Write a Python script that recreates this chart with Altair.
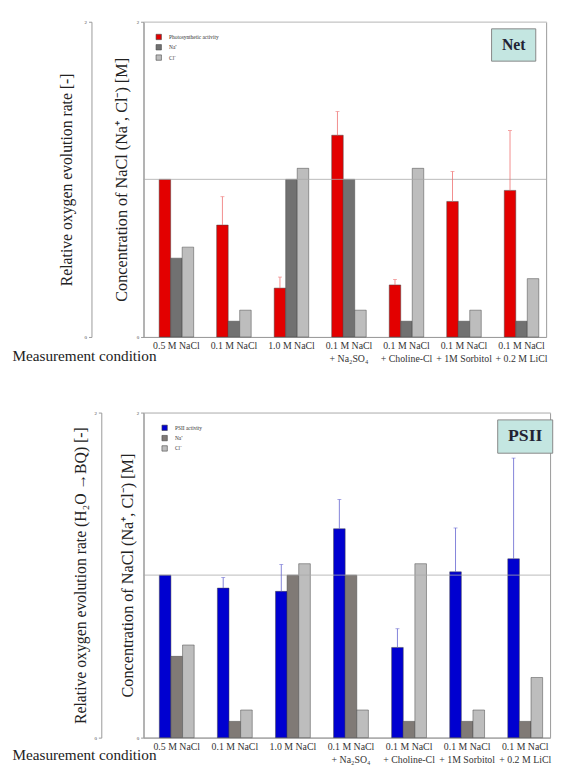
import altair as alt
import pandas as pd

conditions = ["0.5 M NaCl", "0.1 M NaCl", "1.0 M NaCl",
              "0.1 M NaCl|+ Na₂SO₄", "0.1 M NaCl|+ Choline-Cl",
              "0.1 M NaCl|+ 1M Sorbitol", "0.1 M NaCl|+ 0.2 M LiCl"]
series_net = ["Photosynthetic activity", "Na⁺", "Cl⁻"]
series_psii = ["PSII activity", "Na⁺", "Cl⁻"]

net_activity = [1.00, 0.71, 0.31, 1.28, 0.33, 0.86, 0.93]
net_error = [0.0, 0.18, 0.07, 0.15, 0.035, 0.19, 0.38]
psii_activity = [1.00, 0.92, 0.90, 1.285, 0.555, 1.02, 1.10]
psii_error = [0.0, 0.065, 0.165, 0.18, 0.115, 0.27, 0.62]
na_conc = [0.5, 0.1, 1.0, 1.0, 0.1, 0.1, 0.1]
cl_conc = [0.57, 0.17, 1.07, 0.17, 1.07, 0.17, 0.37]
ref_level = [1.0]
y_ticks = [0, 1, 2]
box_range = [1.75, 1.955]

FONT = "Liberation Serif"


def panel(series, act_vals, err_vals, act_color, err_color, box_text,
          w, h, outer_title, inner_title, outer_offset, outer_pad, inner_pad,
          outer_fs, inner_fs, mc_x, mc_y, legend_x, legend_y, box_w, box_dx,
          box_fs, na_color):
    rows = []
    for c, a, n, cl in zip(conditions, act_vals, na_conc, cl_conc):
        rows.append({"condition": c, "series": series[0], "value": a})
        rows.append({"condition": c, "series": series[1], "value": n})
        rows.append({"condition": c, "series": series[2], "value": cl})
    df = pd.DataFrame(rows)
    err_df = pd.DataFrame([{"condition": c, "series": series[0], "value": a, "top": a + e}
                           for c, a, e in zip(conditions, act_vals, err_vals) if e > 0])
    box_df = pd.DataFrame([{"condition": conditions[-1], "y": box_range[0], "y2": box_range[1],
                            "mid": (box_range[0] + box_range[1]) / 2, "label": box_text}])

    yscale = alt.Scale(domain=[0, 2], nice=False, zero=True)
    xscale = alt.Scale(paddingInner=0.4, paddingOuter=0.2, align=0.68)
    xaxis = alt.Axis(title="Measurement condition", labelExpr="split(datum.label, '|')",
                     labelAngle=0, labelFont=FONT, labelFontSize=10, labelLineHeight=13,
                     labelBaseline="top", labelColor="#333", ticks=False, labelPadding=4,
                     labelOverlap=False, domainColor="#999", titleX=mc_x, titleY=mc_y,
                     titleAlign="left", titleBaseline="middle", titleFont=FONT,
                     titleFontSize=15.5, titleFontWeight="normal", titleColor="#222")
    x = alt.X("condition:N", sort=conditions, scale=xscale, axis=xaxis)
    xo = alt.XOffset("series:N", sort=series, scale=alt.Scale(paddingInner=0))

    def yaxis(title, fs, pad, offset=0):
        return alt.Axis(values=y_ticks, format="d", orient="left", offset=offset, title=title,
                        labelFont=FONT, labelFontSize=5, labelColor="#444",
                        tickSize=3, tickColor="#999", labelPadding=2,
                        domainColor="#999", titleFont=FONT, titleFontSize=fs,
                        titleFontWeight="normal", titleColor="#222", titlePadding=pad)

    bars = alt.Chart(df).mark_bar(stroke="#444", strokeWidth=0.5).encode(
        x=x, xOffset=xo,
        y=alt.Y("value:Q", scale=yscale, axis=yaxis(inner_title, inner_fs, inner_pad)),
        color=alt.Color("series:N", sort=series,
                        scale=alt.Scale(domain=series, range=[act_color, na_color, "#bdbdbd"]),
                        legend=alt.Legend(title=None, orient="none", legendX=legend_x,
                                          legendY=legend_y, symbolType="square",
                                          symbolSize=30, symbolStrokeColor="#444",
                                          symbolStrokeWidth=0.6, labelFont=FONT,
                                          labelFontSize=5.5, labelColor="#333",
                                          rowPadding=1.5, labelOffset=7)),
    )
    ref = alt.Chart(pd.DataFrame({"level": ref_level})).mark_rule(
        color="#aaa", strokeWidth=0.8).encode(
        y=alt.Y("level:Q", scale=yscale,
                axis=yaxis(outer_title, outer_fs, outer_pad, outer_offset)))
    err = alt.Chart(err_df).mark_rule(color=err_color, strokeWidth=0.8).encode(
        x=alt.X("condition:N", sort=conditions, scale=xscale), xOffset=xo,
        y=alt.Y("value:Q", scale=yscale, axis=None), y2="top:Q")
    cap = alt.Chart(err_df).mark_tick(color=err_color, size=4, thickness=0.8).encode(
        x=alt.X("condition:N", sort=conditions, scale=xscale), xOffset=xo,
        y=alt.Y("top:Q", scale=yscale, axis=None))
    box = alt.Chart(box_df).mark_bar(width=box_w, xOffset=box_dx, fill="#c4e6e1",
                                     stroke="#888", strokeWidth=1).encode(
        x=alt.X("condition:N", sort=conditions, scale=xscale),
        y=alt.Y("y:Q", scale=yscale, axis=None), y2="y2:Q")
    txt = alt.Chart(box_df).mark_text(xOffset=box_dx, font=FONT, fontSize=box_fs,
                                      fontWeight="bold", color="#223").encode(
        x=alt.X("condition:N", sort=conditions, scale=xscale),
        y=alt.Y("mid:Q", scale=yscale, axis=None), text="label:N")

    return alt.layer(bars, ref, err, cap, box, txt).resolve_axis(y="independent").properties(
        width=w, height=h)


top = panel(series_net, net_activity, net_error, "#e30000", "#ee7070", "Net",
            410, 321, "Relative oxygen evolution rate [-]",
            "Concentration of NaCl (Na⁺, Cl⁻) [M]", 53, 10, 7, 16, 16.5,
            -134, 19, 12, 12, 45, -8, 16, "#717171")
bottom = panel(series_psii, psii_activity, psii_error, "#0000d0", "#6464d0", "PSII",
               414, 331, "Relative oxygen evolution rate (H₂O →BQ) [-]",
               "Concentration of NaCl (Na⁺, Cl⁻) [M]", 43, 6, 1, 16, 16.5,
               -134, 17, 18, 12, 56, 0, 18, "#807a76")

chart = alt.concat(top, bottom, columns=1, spacing=46, align="none").resolve_scale(
    color="independent", xOffset="independent", x="independent", y="independent"
).resolve_legend(color="independent").properties(
    padding={"left": 3, "top": 4, "right": 0, "bottom": 0}
).configure_view(stroke="#999", strokeWidth=1)

chart.save("out.html", embed_options={"renderer": "svg", "actions": False})
